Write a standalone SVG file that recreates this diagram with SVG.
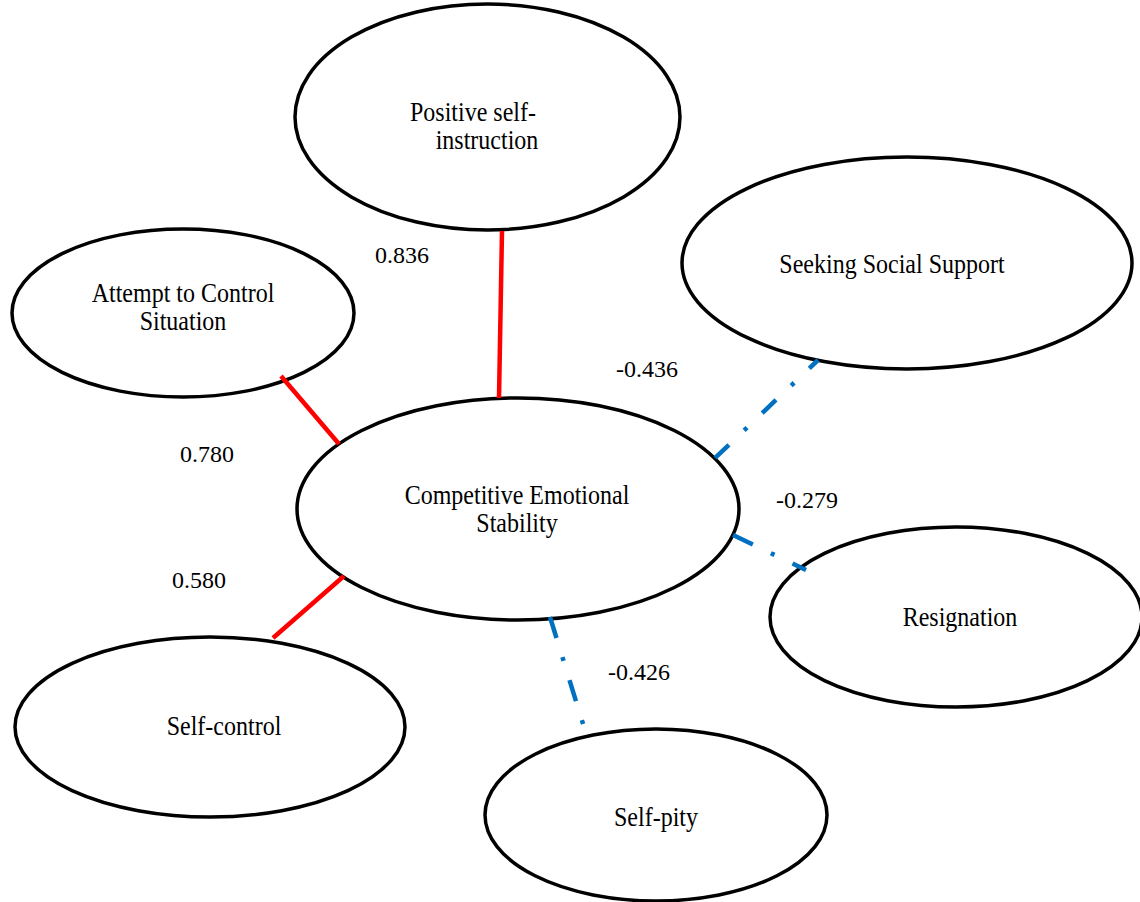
<svg xmlns="http://www.w3.org/2000/svg" width="1140" height="902" viewBox="0 0 1140 902">
<style>
.node ellipse{fill:#fff;stroke:#000;stroke-width:3.5}
.nt{font-size:24px;fill:#000;text-anchor:middle}
.lbl{font-size:24px;fill:#000}
.pos{stroke:#FF0000;stroke-width:4.5;fill:none}
.neg{stroke:#0070C0;stroke-width:4.5;fill:none;stroke-linecap:butt}
</style>
<rect width="1140" height="902" fill="#fff"/>
<g font-family="Liberation Serif, Times New Roman, serif">
<g id="node-positive" class="node">
<ellipse cx="487.5" cy="117" rx="192.5" ry="113"/>
<text class="nt" transform="translate(473,121) scale(1,1.15)">Positive self-</text>
<text class="nt" transform="translate(487,149) scale(1,1.15)">instruction</text>
</g>
<g id="node-attempt" class="node">
<ellipse cx="183" cy="313" rx="171" ry="84"/>
<text class="nt" transform="translate(183,302) scale(1,1.15)">Attempt to Control</text>
<text class="nt" transform="translate(183,330) scale(1,1.15)">Situation</text>
</g>
<g id="node-seeking" class="node">
<ellipse cx="907" cy="263" rx="225" ry="106"/>
<text class="nt" transform="translate(892,273) scale(1,1.15)">Seeking Social Support</text>
</g>
<g id="node-ces" class="node">
<ellipse cx="518" cy="509" rx="221" ry="111"/>
<text class="nt" transform="translate(517,504) scale(1,1.15)">Competitive Emotional</text>
<text class="nt" transform="translate(517,532) scale(1,1.15)">Stability</text>
</g>
<g id="node-resignation" class="node">
<ellipse cx="956" cy="617" rx="186" ry="90"/>
<text class="nt" transform="translate(960,626) scale(1,1.15)">Resignation</text>
</g>
<g id="node-selfcontrol" class="node">
<ellipse cx="210" cy="727" rx="195" ry="90"/>
<text class="nt" transform="translate(224,735) scale(1,1.15)">Self-control</text>
</g>
<g id="node-selfpity" class="node">
<ellipse cx="656" cy="815" rx="171" ry="86"/>
<text class="nt" transform="translate(656,826) scale(1,1.15)">Self-pity</text>
</g>
<g id="connectors">
<line class="pos" x1="502" y1="231" x2="499" y2="398"/>
<line class="pos" x1="281" y1="376" x2="339" y2="444"/>
<line class="pos" x1="344" y1="576" x2="273" y2="638"/>
<line class="neg" x1="818" y1="360" x2="714" y2="459" stroke-dasharray="19 21 4 21" stroke-dashoffset="7"/>
<line class="neg" x1="733" y1="535" x2="806" y2="570" stroke-dasharray="22 20 4 20"/>
<line class="neg" x1="550" y1="617" x2="584" y2="727" stroke-dasharray="22 20 4 20"/>
</g>
<g id="labels">
<text class="lbl" x="375" y="263">0.836</text>
<text class="lbl" x="616" y="377">-0.436</text>
<text class="lbl" x="180" y="462">0.780</text>
<text class="lbl" x="776" y="508">-0.279</text>
<text class="lbl" x="172" y="588">0.580</text>
<text class="lbl" x="608" y="680">-0.426</text>
</g>
</g>
</svg>
